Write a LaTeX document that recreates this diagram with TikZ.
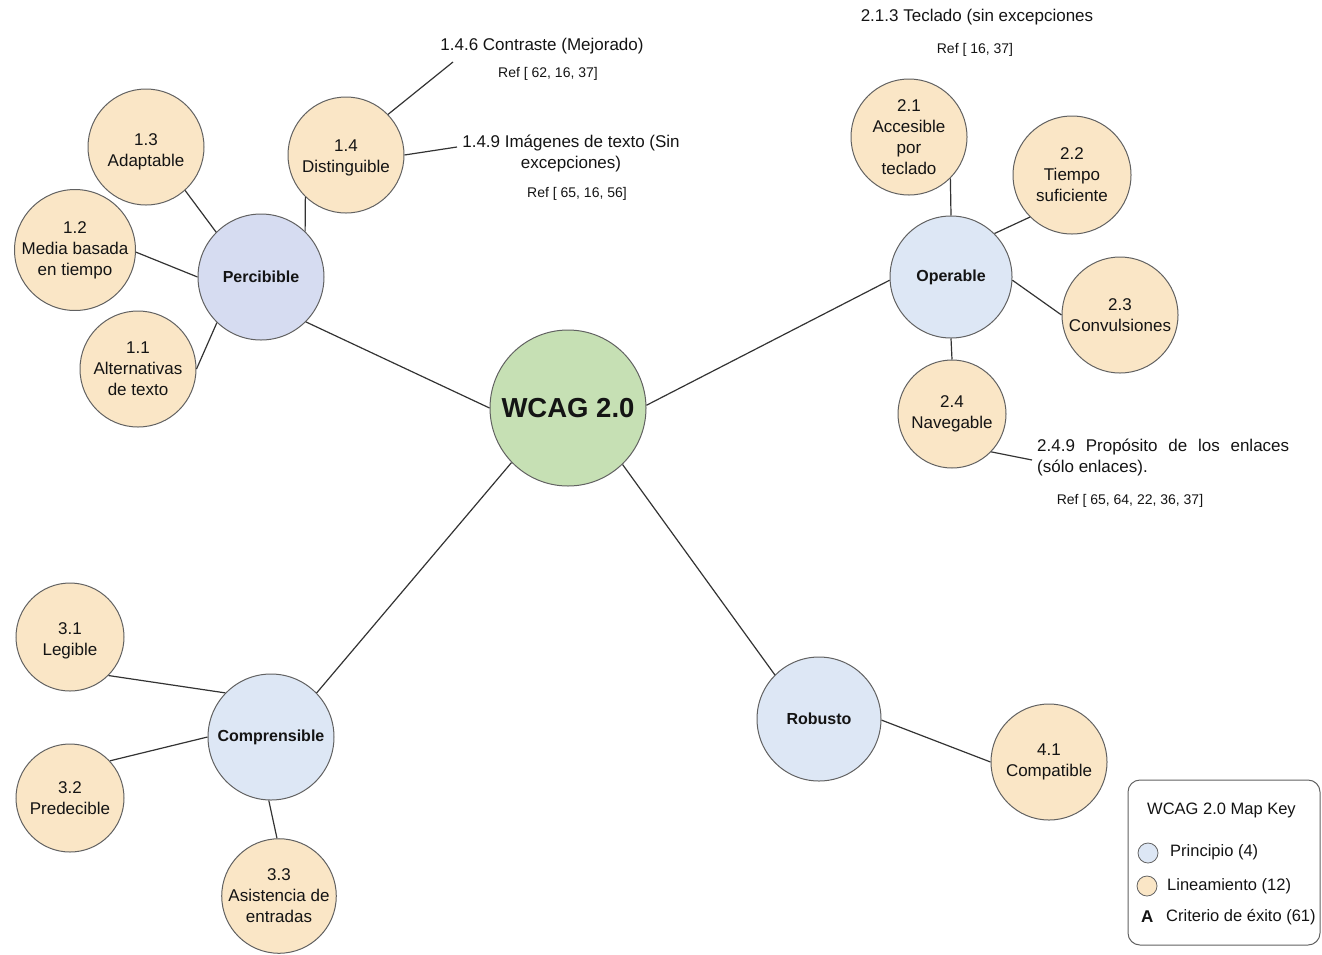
\documentclass[tikz,border=0pt]{standalone}
\usepackage{fontspec}
\setmainfont{Liberation Sans}
\begin{document}
\begin{tikzpicture}[x=1pt,y=-1pt,
  every node/.style={text=black!92},
  bubble/.style={circle,draw=black!62,line width=1pt,inner sep=0pt,align=center},
  guide/.style={bubble,fill=guidefill,font=\fontsize{17}{21}\selectfont},
  principle/.style={bubble,fill=princfill,font=\bfseries\fontsize{16}{19}\selectfont},
  link/.style={draw=black!80,line width=1.2pt},
  crit/.style={font=\fontsize{17}{21}\selectfont,align=center,inner sep=0pt},
  refs/.style={font=\fontsize{14}{17}\selectfont,inner sep=0pt},
  keytext/.style={font=\fontsize{16.5}{20}\selectfont,anchor=west,inner sep=0pt}]
\definecolor{guidefill}{HTML}{FAE6C6}
\definecolor{princfill}{HTML}{DDE7F5}
\definecolor{percfill}{HTML}{D6DCF1}
\definecolor{rootfill}{HTML}{C6E0B4}
\useasboundingbox (0,0) rectangle (1322,954);

% root
\node[bubble,fill=rootfill,minimum size=156pt,font=\bfseries\fontsize{27.5}{30}\selectfont] (w) at (568,408) {WCAG 2.0};

% principles
\node[principle,fill=percfill,minimum size=126pt] (p1) at (261,277) {Percibible};
\node[principle,minimum size=122pt] (p2) at (951,277) {Operable};
\node[principle,minimum size=126pt] (p3) at (271,737) {Comprensible};
\node[principle,minimum size=124pt] (p4) at (819,719) {Robusto};

% guidelines
\node[guide,minimum size=116pt] (g11) at (138,369) {1.1\\Alternativas\\de texto};
\node[guide,minimum size=116pt] (g12) at (75,250) {1.2\\Media basada\\en tiempo};
\node[guide,minimum size=116pt,text height=42pt] (g13) at (146,147) {1.3\\Adaptable};
\node[guide,minimum size=116pt,text height=39pt] (g14) at (346,155) {1.4\\Distinguible};
\node[guide,minimum size=116pt] (g21) at (909,137) {2.1\\Accesible\\por\\teclado};
\node[guide,minimum size=118pt] (g22) at (1072,175) {2.2\\Tiempo\\suficiente};
\node[guide,minimum size=116pt] (g23) at (1120,315) {2.3\\Convulsiones};
\node[guide,minimum size=108pt] (g24) at (952,414) {2.4\\Navegable};
\node[guide,minimum size=108pt,text height=41pt] (g31) at (70,637) {3.1\\Legible};
\node[guide,minimum size=108pt] (g32) at (70,798) {3.2\\Predecible};
\node[guide,minimum size=112pt] (g33) at (279,896) {3.3\\Asistencia de\\entradas};
\node[guide,minimum size=116pt] (g41) at (1049,762) {4.1\\Compatible};

% success criteria
\node[crit] (c146) at (542,46) {1.4.6 Contraste (Mejorado)};
\node[refs] (r146) at (548,74) {Ref [ 62, 16, 37]};
\node[crit] (c149) at (571,153) {1.4.9 Imágenes de texto (Sin\\excepciones)};
\node[refs] (r149) at (577,194) {Ref [ 65, 16, 56]};
\node[crit] (c213) at (977,17) {2.1.3 Teclado (sin excepciones};
\node[refs] (r213) at (975,50) {Ref [ 16, 37]};
\node[crit,align=justify,text width=252pt,anchor=north west] (c249) at (1037,439) {2.4.9 Propósito de los enlaces (sólo enlaces).};
\node[refs] (r249) at (1130,501) {Ref [ 65, 64, 22, 36, 37]};

\coordinate (e146) at (453,62);
\coordinate (e149) at (457,147);
\coordinate (e249) at (1032,460);

% connectors
\draw[link] (w.180) -- (p1.-45);
\draw[link] (w.2) -- (p2.183);
\draw[link] (w.224) -- (p3.44);
\draw[link] (w.-46) -- (p4.135);

\draw[link] (p1.135) -- (g13.-48);
\draw[link] (p1.180) -- (g12.-2);
\draw[link] (p1.226) -- (g11.0);
\draw[link] (p1.46) -- (g14.226);
\draw[link] (g14.44) -- (e146);
\draw[link] (g14.0) -- (e149);

\draw[link] (p2.90) -- (g21.-45);
\draw[link] (p2.45) -- (g22.225);
\draw[link] (p2.-3) -- (g23.180);
\draw[link] (p2.270) -- (g24.90);
\draw[link] (g24.-44) -- (e249);

\draw[link] (p3.136) -- (g31.-45);
\draw[link] (p3.180) -- (g32.43);
\draw[link] (p3.-92) -- (g33.92);

\draw[link] (p4.-1) -- (g41.180);

% legend
\draw[draw=black!62,line width=1pt,rounded corners=12pt,fill=white] (1128,780) rectangle (1320,945);
\node[keytext] (k0) at (1147,810) {WCAG 2.0 Map Key};
\node[circle,draw=black!62,line width=0.8pt,fill=princfill,minimum size=20pt,inner sep=0pt] (k1c) at (1148,853) {};
\node[keytext] (k1) at (1170,852) {Principio (4)};
\node[circle,draw=black!62,line width=0.8pt,fill=guidefill,minimum size=20pt,inner sep=0pt] (k2c) at (1147,886) {};
\node[keytext] (k2) at (1167,886) {Lineamiento (12)};
\node[keytext,font=\bfseries\fontsize{17}{20}\selectfont] (k3c) at (1141,917) {A};
\node[keytext] (k3) at (1166,917) {Criterio de éxito (61)};
\end{tikzpicture}
\end{document}
